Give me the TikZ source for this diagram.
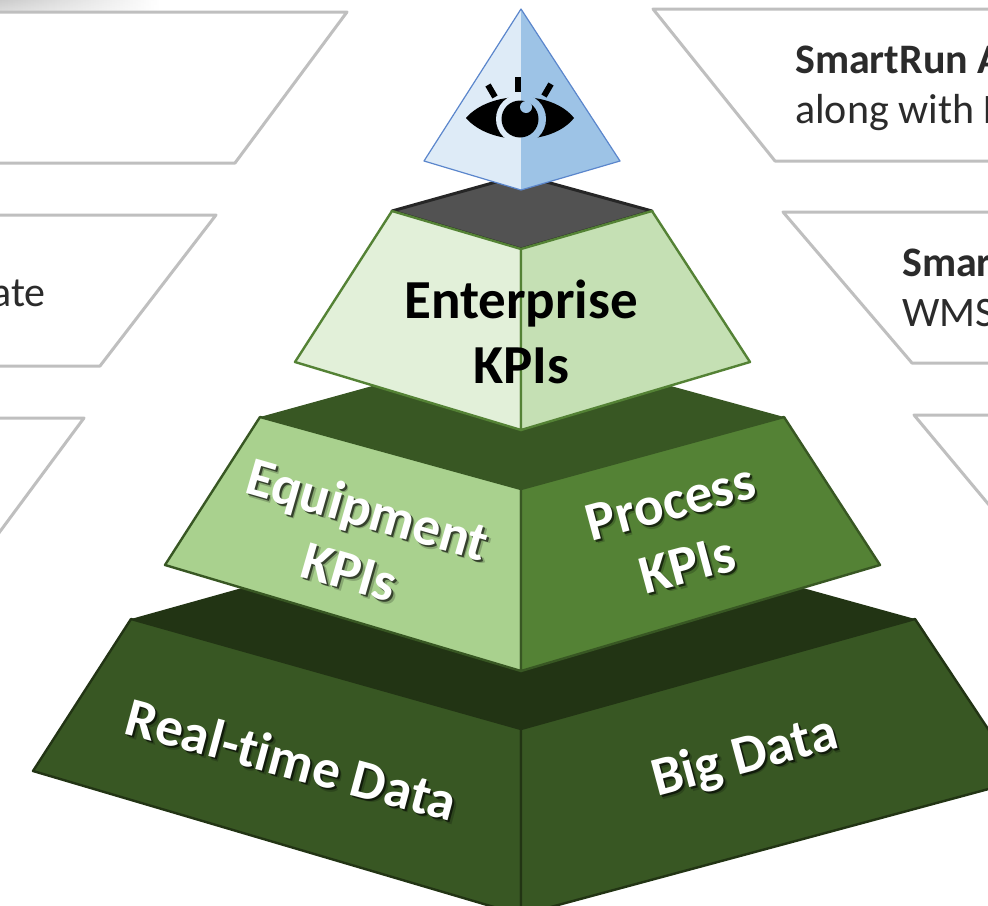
\documentclass[tikz,border=0pt]{standalone}
\usepackage{fontspec}
\setmainfont{Carlito}[Ligatures={NoRequired,NoCommon}]
\usetikzlibrary{fadings}
\definecolor{eyelight}{HTML}{DEEBF7}
\definecolor{eyeblue}{HTML}{9DC3E6}
\definecolor{eyeline}{HTML}{5B86CC}
\definecolor{plate}{HTML}{525252}
\definecolor{platedge}{HTML}{262626}
\definecolor{palegreen}{HTML}{E2F0D9}
\definecolor{softgreen}{HTML}{C5E0B4}
\definecolor{midgreen}{HTML}{A9D18E}
\definecolor{grassgreen}{HTML}{548235}
\definecolor{darkgreen}{HTML}{385723}
\definecolor{deepgreen}{HTML}{223414}
\definecolor{boxline}{HTML}{BFBFBF}
\definecolor{boxtext}{HTML}{2B2B2B}

\begin{document}
\begin{tikzpicture}[%
    x=1pt, y=-1pt,              % Picture is laid out in reference pixels
    line join=round,
    ]
% -------------------------------------------------
% A few styles
\tikzset{
  box/.style={draw=boxline, line width=3pt, fill=white},
  note/.style={anchor=base west, text=boxtext, inner sep=0pt, font=\fontsize{42}{50}\selectfont},
  bignote/.style={note, font=\fontsize{42}{50}\bfseries\selectfont},
  kpi/.style={align=center, font=\fontsize{55}{65}\bfseries\selectfont},
  lbl/.style={kpi, text=white},
  shade1/.style={kpi, text=black, opacity=0.6},
  shade2/.style={kpi, text=black, opacity=0.2},
  tier/.style={line width=2.4pt},
}
\useasboundingbox (0,0) rectangle (988,905);
\clip (0,0) rectangle (988,905);
% -------------------------------------------------
% Faint shadow in the top corner
\shade[left color=black!24, right color=white, path fading=south] (0,-6) rectangle (160,34);

% -------------------------------------------------
% Side boxes, cut off by the page
\draw[box] (-10,12) -- (347,12) -- (235,163) -- (-10,163);
\draw[box] (-10,215) -- (216,215) -- (100,366) -- (-10,366);
\draw[box] (-10,418) -- (84,418) -- (-10,545);
\draw[box] (1000,9) -- (653,9) -- (775,161) -- (1000,161);
\draw[box] (1000,212) -- (783,212) -- (912,363) -- (1000,363);
\draw[box] (1000,415) -- (914,415) -- (1060,590);

\node[note, anchor=base east] (lateword) at (46,306) {ate};
\node[bignote] (runtitle) at (795,73) {SmartRun A};
\node[note] (runtext) at (795,123) {along with F};
\node[bignote] (wmstitle) at (902,276) {Smar};
\node[note] (wmstext) at (902,326) {WMS};

% -------------------------------------------------
% Start by placing the corners of the tiers
\coordinate (a) at (521,729);   % bottom tier
\coordinate (b) at (521,915);
\coordinate (c) at (131,619);
\coordinate (d) at (915,619);
\coordinate (e) at (33,771);
\coordinate (f) at (1022,780);
\coordinate (g) at (521,489);   % middle tier
\coordinate (h) at (521,671);
\coordinate (i) at (260,417);
\coordinate (j) at (784,417);
\coordinate (k) at (165,565);
\coordinate (l) at (880,565);
\coordinate (m) at (521,249);   % top tier
\coordinate (n) at (521,430);
\coordinate (o) at (392,211);
\coordinate (p) at (652,211);
\coordinate (q) at (295,362);
\coordinate (r) at (750,362);

% Bottom tier
\fill[deepgreen] (c) -- (521,510) -- (d) -- (a) -- cycle;
\draw[tier, draw=deepgreen, fill=darkgreen] (c) -- (a) -- (b) -- (e) -- cycle;
\draw[tier, draw=deepgreen, fill=darkgreen] (a) -- (d) -- (f) -- (b) -- cycle;

% Middle tier
\fill[darkgreen] (i) -- (521,345) -- (j) -- (g) -- cycle;
\draw[tier, draw=darkgreen, fill=midgreen] (i) -- (g) -- (h) -- (k) -- cycle;
\draw[tier, draw=darkgreen, fill=grassgreen] (g) -- (j) -- (l) -- (h) -- cycle;

% Top tier
\draw[line width=3pt, draw=platedge, fill=plate] (o) -- (521,175) -- (p) -- (m) -- cycle;
\draw[tier, draw=grassgreen, fill=palegreen] (o) -- (m) -- (n) -- (q) -- cycle;
\draw[tier, draw=grassgreen, fill=softgreen] (m) -- (p) -- (r) -- (n) -- cycle;

% -------------------------------------------------
% Capstone
\coordinate (top) at (521,9);
\coordinate (capl) at (424,161);
\coordinate (capr) at (620,161);
\coordinate (capb) at (521,190);
\fill[eyelight] (top) -- (capb) -- (capl) -- cycle;
\fill[eyeblue] (top) -- (capr) -- (capb) -- cycle;
\draw[eyeline, line width=1.2pt] (top) -- (capr) -- (capb) -- (capl) -- cycle;

% Eye on the capstone
\fill[black] (466,118) .. controls (490,90) and (552,90) .. (574,118)
  .. controls (552,146) and (490,146) .. cycle;
\fill[eyelight] (521,94) arc[start angle=270, end angle=90, radius=25] -- cycle;
\fill[eyeblue] (521,94) arc[start angle=270, end angle=450, radius=25] -- cycle;
\fill[black] (520,119) circle[radius=18.5];
\fill[eyeblue] (526,107) circle[radius=6];
\draw[black, line width=6pt] (517.5,77) -- (517.5,92);
\draw[black, line width=6pt] (488,85) -- (495,97);
\draw[black, line width=6pt] (551,84) -- (544,96);

% -------------------------------------------------
% Labels on the faces, each over its shadow
\node[kpi] (enterprise) at (521,332) {Enterprise\\KPIs};

\node[shade2, rotate=-16] (equipshadowb) at (362.5,543.5) {Equipment\\KPIs};
\node[shade1, rotate=-16] (equipshadow) at (361,542) {Equipment\\KPIs};
\node[lbl, rotate=-16] (equipment) at (359,540) {Equipment\\KPIs};

\node[shade2, rotate=15] (procshadowb) at (682.5,537) {Process\\KPIs};
\node[shade1, rotate=15] (procshadow) at (681,535.5) {Process\\KPIs};
\node[lbl, rotate=15] (process) at (679,533.5) {Process\\KPIs};

\node[shade2, rotate=-15] (realshadowb) at (295.5,763) {Real-time Data};
\node[shade1, rotate=-15] (realshadow) at (294,761.5) {Real-time Data};
\node[lbl, rotate=-15] (realtime) at (292,759.5) {Real-time Data};

\node[shade2, rotate=15] (bigshadowb) at (748.5,761.5) {Big Data};
\node[shade1, rotate=15] (bigshadow) at (747,760) {Big Data};
\node[lbl, rotate=15] (bigdata) at (745,758) {Big Data};

% -------------------------------------------------
\end{tikzpicture}
\end{document}
